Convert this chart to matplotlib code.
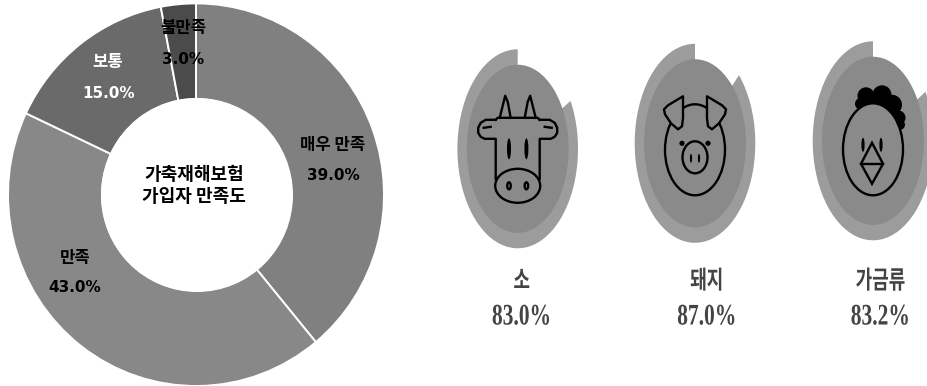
import matplotlib
matplotlib.use('Agg')
import matplotlib.pyplot as plt
from matplotlib.patches import Ellipse, Polygon, Circle
from matplotlib.patheffects import AbstractPathEffect
from matplotlib.transforms import Affine2D

plt.rcParams['font.family'] = ['Noto Sans CJK KR', 'DejaVu Sans']

WIDTH, HEIGHT = 928, 386

# satisfaction donut
satLabels = ['매우 만족', '만족', '보통', '불만족']
satValues = [39.0, 43.0, 15.0, 3.0]
satColors = ['#808080', '#888888', '#6a6a6a', '#4b4b4b']
satTextColors = ['black', 'black', 'white', 'black']
satLabelPos = [(333, 145), (75, 258), (108, 62), (183, 28)]
satValuePos = [(333, 176), (75, 288), (109, 93), (183, 60)]
centerLines = ['가축재해보험', '가입자 만족도']

# per-animal gauges
animals = ['소', '돼지', '가금류']
animalValues = [83.0, 87.0, 83.2]
gaugeCenters = [(517.7, 148.8), (695, 143.3), (873, 140.8)]
labelCenters = [521.7, 707, 880.5]

GAUGE_RX, GAUGE_RY = 60.3, 99.5
RING_COLOR = '#9c9c9c'
DISC_COLOR = '#8a8a8a'
LINE = 1.7


class Condensed(AbstractPathEffect):
    # squeezes a text line horizontally around its own middle
    def __init__(self, scale):
        super().__init__()
        self.scale = scale

    def draw_path(self, renderer, gc, tpath, affine, rgbFace=None):
        mid = tpath.get_extents().x0 + tpath.get_extents().width/2
        squeeze = Affine2D().translate(-mid, 0).scale(self.scale, 1).translate(mid, 0)
        renderer.draw_path(gc, tpath, squeeze + affine, rgbFace)


def pixelAxes(fig, cx, cy, rx, ry):
    ax = fig.add_axes([(cx-rx)/WIDTH, 1-(cy+ry)/HEIGHT, 2*rx/WIDTH, 2*ry/HEIGHT])
    ax.patch.set_alpha(0)
    return ax


def drawDonut(fig):
    ax = pixelAxes(fig, 196, 194.7, 188, 191.3)
    ax.pie(satValues, colors=satColors, startangle=90, counterclock=False, radius=1,
           wedgeprops={'width': 0.5, 'edgecolor': 'white', 'linewidth': 1.4})
    ax.set_aspect('auto')
    ax.set_xlim(-1, 1)
    ax.set_ylim(-1, 1)


def drawGauge(fig, value, center):
    ax = pixelAxes(fig, center[0], center[1], GAUGE_RX, GAUGE_RY)
    # filled part runs anticlockwise from the top
    ax.pie([value, 100-value], colors=[RING_COLOR, 'none'], startangle=90, radius=1)
    ax.set_aspect('auto')
    ax.set_xlim(-1, 1)
    ax.set_ylim(-1, 1)
    ax.add_patch(Circle((0, 0), 0.845, color=DISC_COLOR, lw=0))


def outline(ax, shape):
    shape.set_facecolor('none')
    shape.set_edgecolor('black')
    shape.set_linewidth(LINE)
    ax.add_patch(shape)


def filled(ax, shape, color='black'):
    shape.set_facecolor(color)
    shape.set_edgecolor('none')
    ax.add_patch(shape)


def stroke(ax, points):
    ax.plot([p[0] for p in points], [p[1] for p in points], color='black', lw=LINE, solid_joinstyle='round')


def drawCow(ax, cx, cy):
    for s in (-1, 1):
        stroke(ax, [(cx+s*18, cy-31), (cx+s*14, cy-47), (cx+s*12.5, cy-53), (cx+s*10, cy-47), (cx+s*7, cy-31)])
        stroke(ax, [(cx+s*22, cy-29), (cx+s*32, cy-29), (cx+s*37, cy-26), (cx+s*39.5, cy-21), (cx+s*39.5, cy-16),
                    (cx+s*37, cy-12), (cx+s*33, cy-10), (cx+s*22, cy-10), (cx+s*22, cy+30)])
        stroke(ax, [(cx+s*27, cy-22), (cx+s*34, cy-21)])
        filled(ax, Ellipse((cx+s*8.7, cy), 4, 21))
        outline(ax, Ellipse((cx+s*8.7, cy+37), 3.5, 7))
    stroke(ax, [(cx-22, cy-29), (cx-20, cy-31), (cx+20, cy-31), (cx+22, cy-29)])
    outline(ax, Ellipse((cx, cy+37), 45, 34))


def drawPig(ax, cx, cy):
    outline(ax, Ellipse((cx, cy+6.5), 60, 91))
    for s in (-1, 1):
        ear = [(cx+s*12, cy-47), (cx+s*27, cy-38), (cx+s*31, cy-34), (cx+s*30, cy-29), (cx+s*24, cy-20),
               (cx+s*17, cy-14), (cx+s*13, cy-17), (cx+s*12, cy-25)]
        filled(ax, Polygon(ear, closed=True), DISC_COLOR)
        shape = Polygon(ear, closed=True)
        shape.set_joinstyle('round')
        outline(ax, shape)
        filled(ax, Circle((cx+s*13, cy), 2.6))
        filled(ax, Ellipse((cx+s*4, cy+15), 2.2, 9))
    outline(ax, Ellipse((cx, cy+14), 25, 32))


def drawChicken(ax, cx, cy):
    for x, y, r in [(-12, -37, 6), (-7, -45, 8.5), (9, -46, 9.5), (19, -36, 10), (25, -23, 7.5), (27, -16, 5), (0, -35, 10)]:
        filled(ax, Circle((cx+x, cy+y), r))
    filled(ax, Ellipse((cx, cy+8.5), 60, 92), DISC_COLOR)
    outline(ax, Ellipse((cx, cy+8.5), 60, 92))
    filled(ax, Ellipse((cx-10, cy+4), 3.2, 14))
    filled(ax, Ellipse((cx+8, cy+4), 3.2, 14))
    outline(ax, Polygon([(cx-1, cy+2), (cx+10, cy+23), (cx-1, cy+43), (cx-12, cy+23)], closed=True))
    stroke(ax, [(cx-12, cy+23), (cx+10, cy+23)])


fig = plt.figure(figsize=(WIDTH/100, HEIGHT/100), dpi=100)

drawDonut(fig)
for value, center in zip(animalValues, gaugeCenters):
    drawGauge(fig, value, center)

# icons and text sit on one full-figure layer in pixel coordinates
top = fig.add_axes([0, 0, 1, 1])
top.patch.set_alpha(0)
top.set_xlim(0, WIDTH)
top.set_ylim(HEIGHT, 0)
top.axis('off')

filled(top, Ellipse((197, 195), 192, 194), 'white')
for drawIcon, center in zip([drawCow, drawPig, drawChicken], gaugeCenters):
    drawIcon(top, center[0], center[1])

for label, value, color, lp, vp in zip(satLabels, satValues, satTextColors, satLabelPos, satValuePos):
    top.text(lp[0], lp[1], label, color=color, fontsize=12, fontweight='bold', ha='center', va='center')
    top.text(vp[0], vp[1], f'{value:.1f}%', color=color, fontsize=11, fontweight='bold',
             family='DejaVu Sans', ha='center', va='center')
top.text(194, 175, centerLines[0], color='black', fontsize=13, fontweight='bold', ha='center', va='center')
top.text(194, 197, centerLines[1], color='black', fontsize=13, fontweight='bold', ha='center', va='center')

for name, value, x in zip(animals, animalValues, labelCenters):
    top.text(x, 281.5, name, color='#444444', fontsize=18, fontweight='bold', ha='center', va='center',
             path_effects=[Condensed(0.72)])
    top.text(x, 317, f'{value:.1f}%', color='#444444', fontsize=21.5, fontweight='bold', family='Liberation Serif',
             ha='center', va='center', path_effects=[Condensed(0.72)])

fig.savefig('out.png', dpi=100)
